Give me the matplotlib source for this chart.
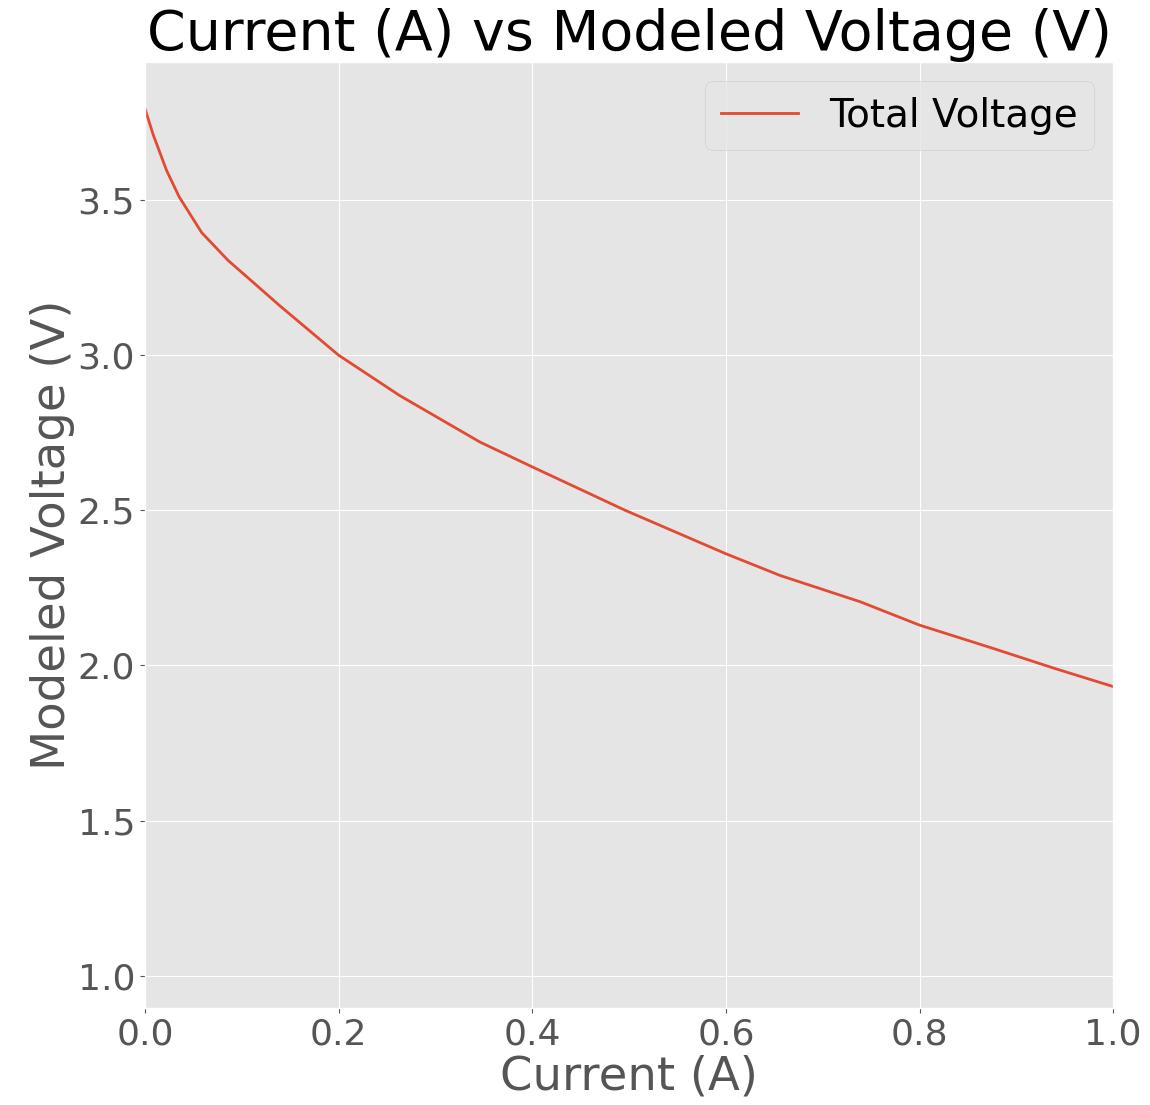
import matplotlib
matplotlib.use("Agg")
import matplotlib.pyplot as plt

plt.style.use("ggplot")

# current (A) and modeled terminal voltage (V)
current = [0.0, 0.0086, 0.0224, 0.0354, 0.0586, 0.086, 0.108, 0.139, 0.2,
           0.263, 0.346, 0.4, 0.496, 0.6, 0.656, 0.739, 0.8, 0.873,
           0.94, 1.0]
voltage = [3.795, 3.71, 3.595, 3.51, 3.395, 3.305, 3.245, 3.16, 3.00,
           2.87, 2.72, 2.64, 2.50, 2.36, 2.29, 2.205, 2.13, 2.058,
           1.99, 1.932]

fig = plt.figure(figsize=(11.5, 11.05), dpi=100)
ax = fig.add_axes([0.126, 0.088, 0.842, 0.856])
ax.plot(current, voltage, color="#E24A33", lw=2, label="Total Voltage")

ax.set_xlim(0, 1.0)
ax.set_ylim(0.897, 3.945)
ax.set_xticks([0.0, 0.2, 0.4, 0.6, 0.8, 1.0])
ax.set_yticks([1.0, 1.5, 2.0, 2.5, 3.0, 3.5])
ax.tick_params(labelsize=26)
ax.set_xlabel("Current (A)", fontsize=33.5, labelpad=2)
ax.set_ylabel("Modeled Voltage (V)", fontsize=33.5, labelpad=2)
ax.set_title("Current (A) vs Modeled Voltage (V)", fontsize=40, pad=8)
ax.legend(loc="upper right", fontsize=28)

fig.savefig("out.png", dpi=100)
